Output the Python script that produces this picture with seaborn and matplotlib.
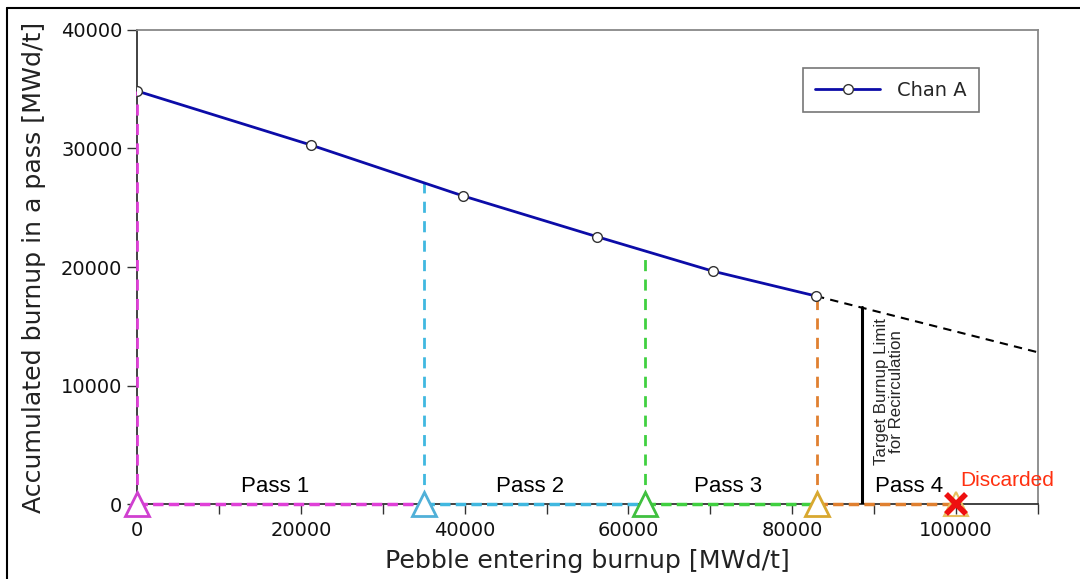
import matplotlib
matplotlib.use("Agg")
import matplotlib.pyplot as plt
import seaborn as sns
import pandas as pd
from matplotlib.lines import Line2D

# burnup curve
chan_x = [0, 21200, 39800, 56200, 70300, 82900]
chan_y = [34850, 30300, 26000, 22550, 19650, 17550]
extrap_x = [82900, 110000]
extrap_y = [17550, 12800]

pass_starts = [0, 35000, 62000, 83000]
pass_ends = [35000, 62000, 83000, 100000]
pass_heights = [34850, 27200, 21300, 17550]
pass_colors = ["#e040d8", "#40b8e0", "#40d040", "#e08030"]
tri_colors = ["#d040d0", "#50b0d8", "#40c040", "#d8a830"]
pass_labels = ["Pass 1", "Pass 2", "Pass 3", "Pass 4"]
pass_label_x = [16800, 48000, 72200, 94300]

limit_x = 88500
limit_top = 16600
discard_x = 100000

sns.set_theme(style="white")
plt.rcParams["font.family"] = ["DejaVu Sans"]

fig = plt.figure(figsize=(10.8, 5.79), dpi=100)
ax = fig.add_axes([0.1269, 0.1295, 0.8342, 0.8187])

df = pd.DataFrame({"x": chan_x, "y": chan_y})
sns.lineplot(data=df, x="x", y="y", ax=ax, color="#0c0ca8", lw=2,
             marker="o", markersize=7, markerfacecolor="white",
             markeredgecolor="#333333", markeredgewidth=1, label="Chan A",
             zorder=5)
ax.plot(extrap_x, extrap_y, color="black", ls=(0, (4, 3)), lw=1.5, zorder=4)

for xs, xe, h, c, tc in zip(pass_starts, pass_ends, pass_heights, pass_colors, tri_colors):
    ax.plot([xs, xs], [0, h], color=c, ls=(0, (4, 3)), lw=2, zorder=3, clip_on=False)
    ax.plot([xs, xe], [0, 0], color=c, ls=(0, (3, 1.5)), lw=2.5, zorder=3, clip_on=False)
    ax.plot([xs], [0], marker="^", markersize=17, markerfacecolor="white",
            markeredgecolor=tc, markeredgewidth=2, ls="none", zorder=6, clip_on=False)
ax.plot([discard_x], [0], marker="^", markersize=17, markerfacecolor="none",
        markeredgecolor="#e8c060", markeredgewidth=1.5, ls="none", zorder=6, clip_on=False)
ax.plot([discard_x], [0], marker="x", markersize=14, color="#ee1010",
        markeredgewidth=4, ls="none", zorder=7, clip_on=False)

for lab, lx in zip(pass_labels, pass_label_x):
    ax.text(lx, 600, lab, ha="center", va="bottom", fontsize=16,
            family="Liberation Sans", color="black")
ax.text(discard_x + 500, 1200, "Discarded", ha="left", va="bottom", fontsize=15,
        family="Liberation Sans", color="#ff3010")

ax.plot([limit_x, limit_x], [0, limit_top], color="black", lw=2.2, zorder=4)
ax.text(limit_x + 3300, 9500, "Target Burnup Limit\nfor Recirculation", rotation=90,
        ha="center", va="center", fontsize=12.2, family="Liberation Sans",
        linespacing=1.0)

ax.set_xlim(0, 110000)
ax.set_ylim(0, 40000)
ax.set_xticks(range(0, 110001, 10000))
ax.set_xticklabels([str(v) if v % 20000 == 0 and v <= 100000 else "" for v in range(0, 110001, 10000)])
ax.set_yticks(range(0, 40001, 10000))
ax.tick_params(axis="both", direction="out", length=7, width=1, labelsize=14,
               color="#333333", labelcolor="#111111", bottom=True, left=True)
ax.tick_params(axis="x", pad=5)
ax.set_xlabel("Pebble entering burnup [MWd/t]", fontsize=18.2, labelpad=7, color="#222222")
ax.set_ylabel("Accumulated burnup in a pass [MWd/t]", fontsize=18.2, labelpad=11, color="#222222")
ax.grid(False)

for side in ["left", "bottom"]:
    ax.spines[side].set_color("#333333")
    ax.spines[side].set_linewidth(1.3)
for side in ["top", "right"]:
    ax.spines[side].set_color("#888888")
    ax.spines[side].set_linewidth(1.3)

leg = ax.legend(loc="upper left", bbox_to_anchor=(0.739, 0.920), borderaxespad=0,
                fontsize=14, frameon=True, fancybox=False, edgecolor="#555555",
                handlelength=3.3, borderpad=0.65, handletextpad=0.9)
leg.get_frame().set_linewidth(1.2)

# outer frame lines (top and left) as in the original image
fig.add_artist(Line2D([0.0065, 1.0], [0.986, 0.986], color="black", lw=1.5,
                      transform=fig.transFigure))
fig.add_artist(Line2D([0.0065, 0.0065], [0.0, 0.986], color="black", lw=1.5,
                      transform=fig.transFigure))

fig.savefig("out.png", dpi=100)
plt.close(fig)
